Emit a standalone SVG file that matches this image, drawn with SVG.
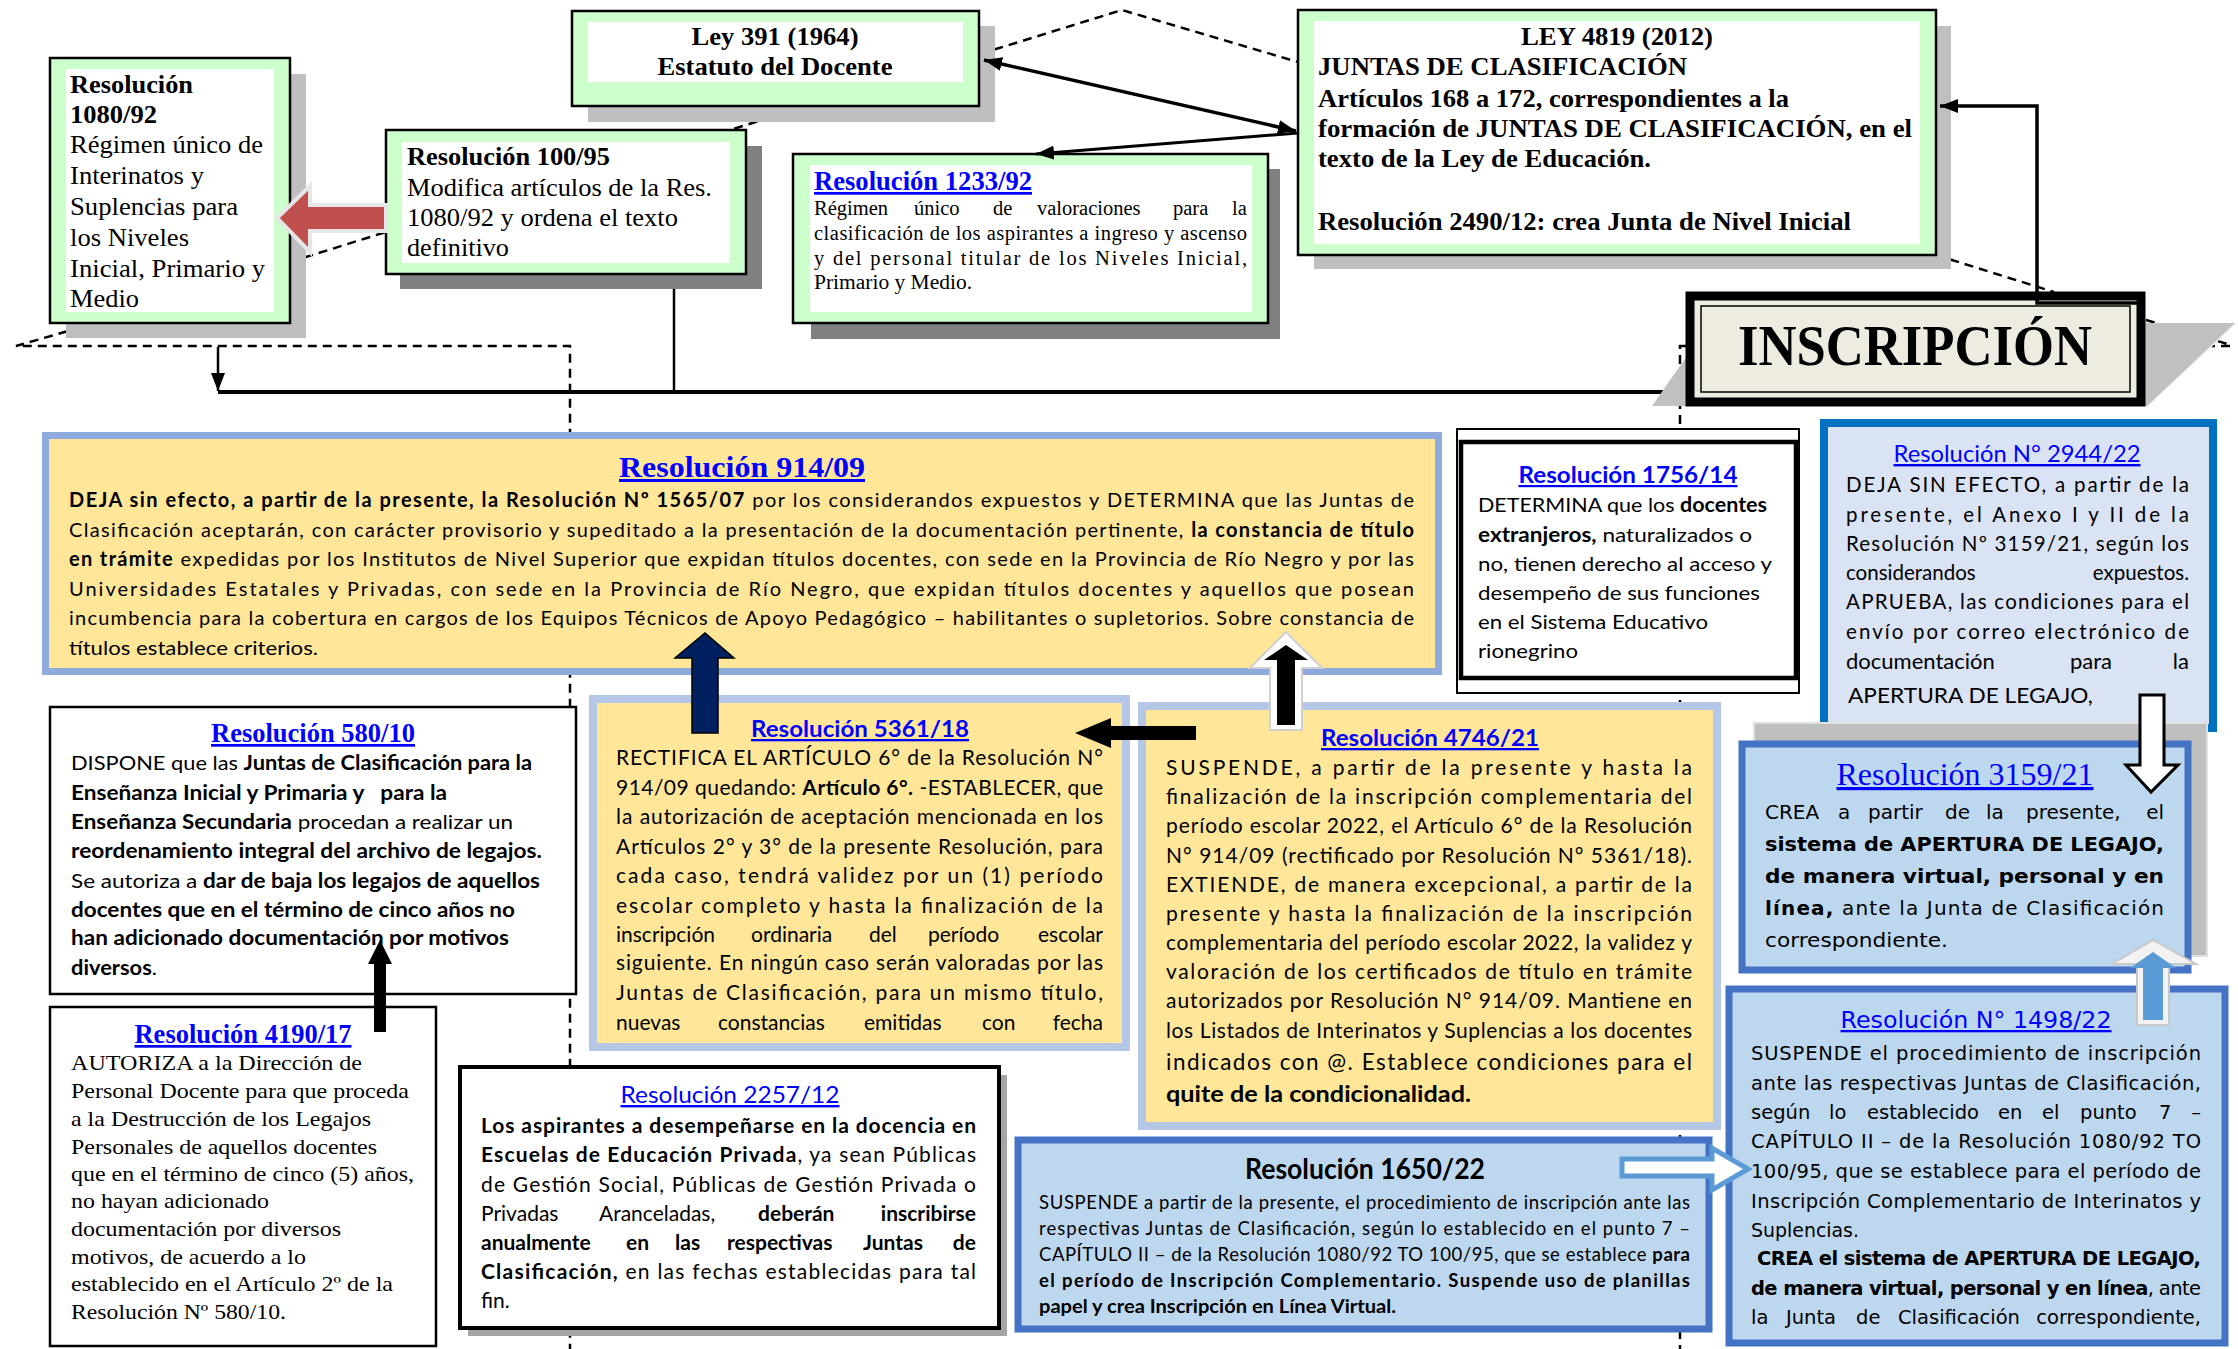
<svg xmlns="http://www.w3.org/2000/svg" width="2238" height="1349" viewBox="0 0 2238 1349">
<defs>
<style>
text{fill:#000}
.sr{font-family:"Liberation Serif","Times New Roman",serif}
.ss{font-family:Lato,"Open Sans","Noto Sans",sans-serif}
.sv{font-family:"DejaVu Sans",Verdana,sans-serif}
.b{font-weight:bold}
.lk{fill:#0000FF;text-decoration:underline}
.dash{fill:none;stroke:#000;stroke-width:2.5;stroke-dasharray:9 6}
.ln{fill:none;stroke:#000}
.grn{fill:#CCFFCC;stroke:#000;stroke-width:2.5}
.wht{fill:#FFFFFF}
.sh1{fill:#BFBFBF}
.sh2{fill:#808080}
.yel{fill:#FFE699;stroke:#B4C7E7;stroke-width:8}
.blu{fill:#BDD7EE;stroke:#4472C4;stroke-width:7}
</style>
<marker id="ah" viewBox="0 0 10 10" refX="10" refY="5" markerWidth="18" markerHeight="14" markerUnits="userSpaceOnUse" orient="auto-start-reverse" preserveAspectRatio="none"><path d="M0,0 L10,5 L0,10 z" fill="#000"/></marker>
</defs>
<rect width="2238" height="1349" fill="#FFFFFF"/>

<g id="connectors-back">
<path class="dash" d="M980,54 L1122,10 L1298,62"/>
<path class="dash" d="M800,108 L730,130"/>
<path class="dash" d="M290,262 L386,232"/>
<path class="dash" d="M96,323 L16,346 L570,346 L570,1349"/>
<path class="dash" d="M1936,255 L2054,292"/>
<path class="dash" d="M2146,320 L2231,345 M2146,346 L2231,346"/>
<path class="dash" d="M1686,346 L1680,346 L1680,1349"/>
<path class="ln" stroke-width="4" d="M1688,392 L218,392"/>
<path class="ln" stroke-width="2.5" d="M674,274 L674,392"/>
</g>

<g id="ley391">
<rect class="sh1" x="588" y="26" width="407" height="96"/>
<rect class="grn" x="572" y="11" width="407" height="95"/>
<rect class="wht" x="588" y="22" width="375" height="60"/>
<text class="sr b" font-size="26" x="775" y="45" text-anchor="middle" textLength="167" lengthAdjust="spacingAndGlyphs">Ley 391 (1964)</text>
<text class="sr b" font-size="26" x="775" y="75" text-anchor="middle" textLength="235" lengthAdjust="spacingAndGlyphs">Estatuto del Docente</text>
</g>

<g id="res1080">
<rect class="sh1" x="66" y="74" width="240" height="264"/>
<rect class="grn" x="50" y="58" width="240" height="265"/>
<rect class="wht" x="66" y="69" width="208" height="243"/>
<text class="sr b" font-size="25" x="70" y="93" textLength="123" lengthAdjust="spacingAndGlyphs">Resolución</text>
<text class="sr b" font-size="25" x="70" y="123" textLength="87" lengthAdjust="spacingAndGlyphs">1080/92</text>
<text class="sr" font-size="25" x="70" y="153" textLength="193" lengthAdjust="spacingAndGlyphs">Régimen único de</text>
<text class="sr" font-size="25" x="70" y="184" textLength="134" lengthAdjust="spacingAndGlyphs">Interinatos y</text>
<text class="sr" font-size="25" x="70" y="215" textLength="168" lengthAdjust="spacingAndGlyphs">Suplencias para</text>
<text class="sr" font-size="25" x="70" y="246" textLength="119" lengthAdjust="spacingAndGlyphs">los Niveles</text>
<text class="sr" font-size="25" x="70" y="277" textLength="195" lengthAdjust="spacingAndGlyphs">Inicial, Primario y</text>
<text class="sr" font-size="25" x="70" y="307" textLength="69" lengthAdjust="spacingAndGlyphs">Medio</text>
</g>

<g id="res100">
<rect class="sh2" x="400" y="146" width="362" height="143"/>
<rect class="grn" x="386" y="130" width="360" height="144"/>
<rect class="wht" x="402" y="142" width="328" height="121"/>
<text class="sr b" font-size="25" x="407" y="165" textLength="203" lengthAdjust="spacingAndGlyphs">Resolución 100/95</text>
<text class="sr" font-size="25" x="407" y="196" textLength="305" lengthAdjust="spacingAndGlyphs">Modifica artículos de la Res.</text>
<text class="sr" font-size="25" x="407" y="226" textLength="271" lengthAdjust="spacingAndGlyphs">1080/92 y ordena el texto</text>
<text class="sr" font-size="25" x="407" y="256" textLength="102" lengthAdjust="spacingAndGlyphs">definitivo</text>
</g>

<g id="res1233">
<rect class="sh2" x="811" y="169" width="469" height="170"/>
<rect class="grn" x="793" y="154" width="475" height="169"/>
<rect class="wht" x="810" y="165" width="442" height="147"/>
<text class="sr b lk" font-size="27" x="814" y="190" textLength="218" lengthAdjust="spacingAndGlyphs">Resolución 1233/92</text>
<text class="sr" font-size="20.5" y="215"><tspan x="814">Régimen</tspan><tspan x="914">único</tspan><tspan x="993">de</tspan><tspan x="1037">valoraciones</tspan><tspan x="1173">para</tspan><tspan x="1232">la</tspan></text>
<text class="sr" font-size="20.5" x="814" y="240" textLength="433" lengthAdjust="spacing">clasificación de los aspirantes a ingreso y ascenso</text>
<text class="sr" font-size="20.5" x="814" y="265" textLength="433" lengthAdjust="spacing">y del personal titular de los Niveles Inicial,</text>
<text class="sr" font-size="20.5" x="814" y="289" textLength="158" lengthAdjust="spacingAndGlyphs">Primario y Medio.</text>
</g>

<g id="ley4819">
<rect class="sh1" x="1314" y="26" width="637" height="243"/>
<rect class="grn" x="1298" y="10" width="638" height="245"/>
<rect class="wht" x="1314" y="21" width="606" height="223"/>
<text class="sr b" font-size="26" x="1617" y="45" text-anchor="middle" textLength="192" lengthAdjust="spacingAndGlyphs">LEY 4819 (2012)</text>
<text class="sr b" font-size="26" x="1318" y="75" textLength="369" lengthAdjust="spacingAndGlyphs">JUNTAS DE CLASIFICACIÓN</text>
<text class="sr b" font-size="26" x="1318" y="107" textLength="471" lengthAdjust="spacingAndGlyphs">Artículos 168 a 172, correspondientes a la</text>
<text class="sr b" font-size="26" x="1318" y="137" textLength="594" lengthAdjust="spacingAndGlyphs">formación de JUNTAS DE CLASIFICACIÓN, en el</text>
<text class="sr b" font-size="26" x="1318" y="167" textLength="333" lengthAdjust="spacingAndGlyphs">texto de la Ley de Educación.</text>
<text class="sr b" font-size="26" x="1318" y="230" textLength="533" lengthAdjust="spacingAndGlyphs">Resolución 2490/12: crea Junta de Nivel Inicial</text>
</g>

<g id="inscripcion">
<polygon points="1710,323 2236,323 2148,406 1652,406" fill="#C0C0C0"/>
<line x1="2236" y1="323" x2="2148" y2="406" stroke="#F2F2F2" stroke-width="1.5"/>
<rect x="1690" y="296" width="451" height="106" fill="#EEECE1" stroke="#000" stroke-width="9"/>
<rect x="1701" y="306" width="429" height="86" fill="none" stroke="#000" stroke-width="1.5"/>
<text class="sr b" font-size="56" x="1915" y="365" text-anchor="middle" textLength="354" lengthAdjust="spacingAndGlyphs">INSCRIPCIÓN</text>
</g>

<g id="res914">
<rect x="45.5" y="435.5" width="1393" height="236" fill="#FFE699" stroke="#8FAADC" stroke-width="7"/>
<text class="sr b lk" font-size="30" x="742" y="477" text-anchor="middle" textLength="246" lengthAdjust="spacingAndGlyphs">Resolución 914/09</text>
<text class="ss" font-size="20" x="69" y="507" textLength="1345" lengthAdjust="spacing"><tspan class="b">DEJA  sin efecto, a partir de la presente, la Resolución Nº 1565/07</tspan> por los considerandos expuestos y DETERMINA que  las Juntas de</text>
<text class="ss" font-size="20" x="69" y="537" textLength="1345" lengthAdjust="spacing">Clasificación  aceptarán,  con  carácter provisorio y supeditado a la presentación de la documentación pertinente, <tspan class="b">la constancia de título</tspan></text>
<text class="ss" font-size="20" x="69" y="566" textLength="1345" lengthAdjust="spacing"><tspan class="b">en trámite</tspan> expedidas por los Institutos de Nivel Superior que expidan títulos docentes, con sede en la Provincia de Río Negro y por las</text>
<text class="ss" font-size="20" x="69" y="596" textLength="1345" lengthAdjust="spacing">Universidades Estatales y Privadas, con sede  en  la Provincia de Río Negro, que expidan títulos docentes y aquellos que posean</text>
<text class="ss" font-size="20" x="69" y="625" textLength="1345" lengthAdjust="spacing">incumbencia para la cobertura en cargos de los Equipos Técnicos de Apoyo Pedagógico – habilitantes o supletorios. Sobre constancia de</text>
<text class="ss" font-size="20" x="69" y="655" textLength="249" lengthAdjust="spacingAndGlyphs">títulos establece criterios.</text>
</g>

<g id="res1756">
<rect x="1457" y="429" width="342" height="264" fill="#FFFFFF" stroke="#000" stroke-width="2"/>
<rect x="1461" y="442" width="335" height="236" fill="#FFFFFF" stroke="#000" stroke-width="4.5"/>
<text class="ss b lk" font-size="22" x="1628" y="483" text-anchor="middle" textLength="219" lengthAdjust="spacingAndGlyphs">Resolución 1756/14</text>
<text class="ss" font-size="20" x="1478" y="512" textLength="289" lengthAdjust="spacingAndGlyphs">DETERMINA que los <tspan class="b">docentes</tspan></text>
<text class="ss" font-size="20" x="1478" y="542" textLength="274" lengthAdjust="spacingAndGlyphs"><tspan class="b">extranjeros,</tspan> naturalizados o</text>
<text class="ss" font-size="20" x="1478" y="571" textLength="294" lengthAdjust="spacingAndGlyphs">no, tienen derecho al acceso y</text>
<text class="ss" font-size="20" x="1478" y="600" textLength="282" lengthAdjust="spacingAndGlyphs">desempeño de sus funciones</text>
<text class="ss" font-size="20" x="1478" y="629" textLength="230" lengthAdjust="spacingAndGlyphs">en el Sistema Educativo</text>
<text class="ss" font-size="20" x="1478" y="658" textLength="100" lengthAdjust="spacingAndGlyphs">rionegrino</text>
</g>

<g id="res2944">
<rect x="1824" y="423" width="389" height="305" fill="#DAE3F3" stroke="#0070C0" stroke-width="8"/>
<text class="ss lk" font-size="24" x="2017" y="462" text-anchor="middle" textLength="247" lengthAdjust="spacingAndGlyphs">Resolución N° 2944/22</text>
<text class="ss" font-size="20.5" x="1846" y="492" textLength="343" lengthAdjust="spacing">DEJA SIN EFECTO, a partir de la</text>
<text class="ss" font-size="20.5" x="1846" y="522" textLength="343" lengthAdjust="spacing">presente, el Anexo I y II de la</text>
<text class="ss" font-size="20.5" x="1846" y="551" textLength="343" lengthAdjust="spacing">Resolución Nº 3159/21, según los</text>
<text class="ss" font-size="20.5" x="1846" y="580">considerandos</text>
<text class="ss" font-size="20.5" x="2189" y="580" text-anchor="end">expuestos.</text>
<text class="ss" font-size="20.5" x="1846" y="609" textLength="343" lengthAdjust="spacing">APRUEBA, las condiciones para el</text>
<text class="ss" font-size="20.5" x="1846" y="639" textLength="343" lengthAdjust="spacing">envío por correo electrónico de</text>
<text class="ss" font-size="22" x="1846" y="669">documentación</text>
<text class="ss" font-size="22" x="2070" y="669">para</text>
<text class="ss" font-size="22" x="2189" y="669" text-anchor="end">la</text>
<text class="ss" font-size="22" x="1848" y="703" textLength="245" lengthAdjust="spacingAndGlyphs">APERTURA DE LEGAJO,</text>
</g>

<g id="res580">
<rect x="50" y="707" width="526" height="287" fill="#FFFFFF" stroke="#000" stroke-width="2.5"/>
<text class="sr b lk" font-size="27" x="313" y="742" text-anchor="middle" textLength="204" lengthAdjust="spacingAndGlyphs">Resolución 580/10</text>
<text class="ss" font-size="20" x="71" y="770" textLength="461" lengthAdjust="spacingAndGlyphs">DISPONE que las <tspan class="b">Juntas de Clasificación para la</tspan></text>
<text class="ss b" font-size="20" x="71" y="800" textLength="376" lengthAdjust="spacingAndGlyphs" xml:space="preserve">Enseñanza Inicial y Primaria y   para la</text>
<text class="ss" font-size="20" x="71" y="829" textLength="442" lengthAdjust="spacingAndGlyphs"><tspan class="b">Enseñanza Secundaria</tspan> procedan a realizar un</text>
<text class="ss b" font-size="20" x="71" y="858" textLength="471" lengthAdjust="spacingAndGlyphs">reordenamiento integral del archivo de legajos.</text>
<text class="ss" font-size="20" x="71" y="888" textLength="469" lengthAdjust="spacingAndGlyphs">Se autoriza a <tspan class="b">dar de baja los legajos de aquellos</tspan></text>
<text class="ss b" font-size="20" x="71" y="917" textLength="444" lengthAdjust="spacingAndGlyphs">docentes que en el término de cinco años no</text>
<text class="ss b" font-size="20" x="71" y="945" textLength="438" lengthAdjust="spacingAndGlyphs">han adicionado documentación por motivos</text>
<text class="ss" font-size="20" x="71" y="975" textLength="86" lengthAdjust="spacingAndGlyphs"><tspan class="b">diversos</tspan>.</text>
</g>

<g id="res4190">
<rect x="50" y="1007" width="386" height="339" fill="#FFFFFF" stroke="#000" stroke-width="2.5"/>
<text class="sr b lk" font-size="27" x="243" y="1043" text-anchor="middle" textLength="217" lengthAdjust="spacingAndGlyphs">Resolución 4190/17</text>
<text class="sr" font-size="22" x="71" y="1070" textLength="291" lengthAdjust="spacingAndGlyphs">AUTORIZA a la Dirección de</text>
<text class="sr" font-size="22" x="71" y="1098" textLength="338" lengthAdjust="spacingAndGlyphs">Personal Docente para que proceda</text>
<text class="sr" font-size="22" x="71" y="1126" textLength="300" lengthAdjust="spacingAndGlyphs">a la Destrucción de los Legajos</text>
<text class="sr" font-size="22" x="71" y="1154" textLength="306" lengthAdjust="spacingAndGlyphs">Personales de aquellos docentes</text>
<text class="sr" font-size="22" x="71" y="1181" textLength="343" lengthAdjust="spacingAndGlyphs">que en el término de cinco (5) años,</text>
<text class="sr" font-size="22" x="71" y="1208" textLength="198" lengthAdjust="spacingAndGlyphs">no hayan adicionado</text>
<text class="sr" font-size="22" x="71" y="1236" textLength="270" lengthAdjust="spacingAndGlyphs">documentación por diversos</text>
<text class="sr" font-size="22" x="71" y="1264" textLength="235" lengthAdjust="spacingAndGlyphs">motivos, de acuerdo a lo</text>
<text class="sr" font-size="22" x="71" y="1291" textLength="322" lengthAdjust="spacingAndGlyphs">establecido en el Artículo 2º de la</text>
<text class="sr" font-size="22" x="71" y="1319" textLength="215" lengthAdjust="spacingAndGlyphs">Resolución Nº 580/10.</text>
</g>

<g id="res5361">
<rect class="yel" x="593" y="699" width="533" height="348"/>
<text class="ss b lk" font-size="23" x="860" y="737" text-anchor="middle" textLength="218" lengthAdjust="spacingAndGlyphs">Resolución 5361/18</text>
<text class="ss" font-size="21" x="616" y="765" textLength="487" lengthAdjust="spacing">RECTIFICA EL ARTÍCULO 6° de la Resolución N°</text>
<text class="ss" font-size="21" x="616" y="795" textLength="487" lengthAdjust="spacing">914/09 quedando: <tspan class="b">Artículo 6°.</tspan> -ESTABLECER, que</text>
<text class="ss" font-size="21" x="616" y="824" textLength="487" lengthAdjust="spacing">la autorización de aceptación mencionada en los</text>
<text class="ss" font-size="21" x="616" y="854" textLength="487" lengthAdjust="spacing">Artículos 2° y 3° de la presente Resolución, para</text>
<text class="ss" font-size="21" x="616" y="883" textLength="487" lengthAdjust="spacing">cada caso, tendrá validez por un (1) período</text>
<text class="ss" font-size="21" x="616" y="913" textLength="487" lengthAdjust="spacing">escolar completo y hasta la finalización de la</text>
<text class="ss" font-size="21" y="942"><tspan x="616">inscripción</tspan><tspan x="751">ordinaria</tspan><tspan x="869">del</tspan><tspan x="928">período</tspan></text>
<text class="ss" font-size="21" x="1103" y="942" text-anchor="end">escolar</text>
<text class="ss" font-size="21" x="616" y="970" textLength="487" lengthAdjust="spacing">siguiente. En ningún caso serán valoradas por las</text>
<text class="ss" font-size="21" x="616" y="1000" textLength="487" lengthAdjust="spacing">Juntas de Clasificación, para un mismo título,</text>
<text class="ss" font-size="21" y="1030"><tspan x="616">nuevas</tspan><tspan x="718">constancias</tspan><tspan x="864">emitidas</tspan><tspan x="982">con</tspan></text>
<text class="ss" font-size="21" x="1103" y="1030" text-anchor="end">fecha</text>
</g>

<g id="res4746">
<rect class="yel" x="1142" y="706" width="575" height="420"/>
<text class="ss b lk" font-size="23" x="1430" y="746" text-anchor="middle" textLength="218" lengthAdjust="spacingAndGlyphs">Resolución 4746/21</text>
<text class="ss" font-size="21" x="1166" y="775" textLength="526" lengthAdjust="spacing">SUSPENDE, a partir de la presente y hasta la</text>
<text class="ss" font-size="21" x="1166" y="804" textLength="526" lengthAdjust="spacing">finalización de la inscripción complementaria del</text>
<text class="ss" font-size="21" x="1166" y="833" textLength="526" lengthAdjust="spacing">período escolar 2022, el Artículo 6° de la Resolución</text>
<text class="ss" font-size="21" x="1166" y="863" textLength="526" lengthAdjust="spacing">N° 914/09 (rectificado por Resolución N° 5361/18).</text>
<text class="ss" font-size="21" x="1166" y="892" textLength="526" lengthAdjust="spacing">EXTIENDE, de manera excepcional, a partir de la</text>
<text class="ss" font-size="21" x="1166" y="921" textLength="526" lengthAdjust="spacing">presente y hasta la finalización de la inscripción</text>
<text class="ss" font-size="21" x="1166" y="950" textLength="526" lengthAdjust="spacing">complementaria del período escolar 2022, la validez y</text>
<text class="ss" font-size="21" x="1166" y="979" textLength="526" lengthAdjust="spacing">valoración de los certificados de título en trámite</text>
<text class="ss" font-size="21" x="1166" y="1008" textLength="526" lengthAdjust="spacing">autorizados por Resolución N° 914/09. Mantiene en</text>
<text class="ss" font-size="21" x="1166" y="1038" textLength="526" lengthAdjust="spacing">los Listados de Interinatos y Suplencias a los docentes</text>
<text class="ss" font-size="22.5" x="1166" y="1070" textLength="526" lengthAdjust="spacing">indicados con @. Establece condiciones para el</text>
<text class="ss b" font-size="23.5" x="1166" y="1102" textLength="305" lengthAdjust="spacingAndGlyphs">quite de la condicionalidad.</text>
</g>

<g id="res2257">
<rect x="468" y="1075" width="539" height="261" fill="#A6A6A6"/>
<rect x="460" y="1067" width="539" height="261" fill="#FFFFFF" stroke="#000" stroke-width="4"/>
<text class="ss lk" font-size="24" x="730" y="1103" text-anchor="middle" textLength="219" lengthAdjust="spacingAndGlyphs">Resolución 2257/12</text>
<text class="ss b" font-size="21" x="481" y="1133" textLength="495" lengthAdjust="spacing">Los aspirantes a desempeñarse en la docencia en</text>
<text class="ss" font-size="21" x="481" y="1162" textLength="495" lengthAdjust="spacing"><tspan class="b">Escuelas de Educación Privada</tspan>, ya sean Públicas</text>
<text class="ss" font-size="21" x="481" y="1192" textLength="495" lengthAdjust="spacing">de Gestión Social, Públicas de Gestión Privada o</text>
<text class="ss" font-size="21" y="1221"><tspan x="481">Privadas</tspan><tspan x="599">Aranceladas,</tspan><tspan class="b" x="758">deberán</tspan></text>
<text class="ss b" font-size="21" x="976" y="1221" text-anchor="end">inscribirse</text>
<text class="ss b" font-size="21" y="1250"><tspan x="481">anualmente</tspan><tspan x="626">en</tspan><tspan x="675">las</tspan><tspan x="727">respectivas</tspan><tspan x="863">Juntas</tspan></text>
<text class="ss b" font-size="21" x="976" y="1250" text-anchor="end">de</text>
<text class="ss" font-size="21" x="481" y="1279" textLength="495" lengthAdjust="spacing"><tspan class="b">Clasificación,</tspan> en las fechas establecidas para tal</text>
<text class="ss" font-size="21" x="481" y="1308">fin.</text>
</g>

<g id="res1650">
<rect class="blu" x="1018" y="1140" width="691" height="189" stroke-width="8"/>
<text class="ss b" font-size="28" x="1365" y="1179" text-anchor="middle" textLength="240" lengthAdjust="spacingAndGlyphs">Resolución 1650/22</text>
<text class="ss" font-size="18.5" x="1039" y="1209" textLength="651" lengthAdjust="spacing">SUSPENDE a partir de la presente, el procedimiento de inscripción ante las</text>
<text class="ss" font-size="18.5" x="1039" y="1235" textLength="651" lengthAdjust="spacing">respectivas Juntas de Clasificación, según lo establecido en el punto 7 –</text>
<text class="ss" font-size="18.5" x="1039" y="1261" textLength="651" lengthAdjust="spacing">CAPÍTULO II – de la Resolución 1080/92 TO 100/95, que se establece <tspan class="b">para</tspan></text>
<text class="ss b" font-size="18.5" x="1039" y="1287" textLength="651" lengthAdjust="spacing">el período de Inscripción Complementario. Suspende uso de planillas</text>
<text class="ss b" font-size="18.5" x="1039" y="1313" textLength="357" lengthAdjust="spacingAndGlyphs">papel y crea Inscripción en Línea Virtual.</text>
</g>

<g id="res3159">
<rect x="1754" y="723" width="453" height="233" fill="#BFBFBF" stroke="#E0E0E0" stroke-width="2"/>
<rect class="blu" x="1742" y="744" width="446" height="226"/>
<text class="sr lk" font-size="32" x="1965" y="785" text-anchor="middle" textLength="257" lengthAdjust="spacingAndGlyphs">Resolución 3159/21</text>
<text class="sv" font-size="20" y="819"><tspan x="1765">CREA</tspan><tspan x="1838">a</tspan><tspan x="1868">partir</tspan><tspan x="1945">de</tspan><tspan x="1986">la</tspan><tspan x="2026">presente,</tspan></text>
<text class="sv" font-size="20" x="2164" y="819" text-anchor="end">el</text>
<text class="sv b" font-size="20" x="1765" y="851" textLength="399" lengthAdjust="spacingAndGlyphs">sistema de APERTURA DE LEGAJO,</text>
<text class="sv b" font-size="20" x="1765" y="883" textLength="399" lengthAdjust="spacingAndGlyphs">de manera virtual, personal y en</text>
<text class="sv" font-size="20" x="1765" y="915" textLength="399" lengthAdjust="spacing"><tspan class="b">línea,</tspan> ante la Junta de Clasificación</text>
<text class="sv" font-size="20" x="1765" y="947" textLength="183" lengthAdjust="spacingAndGlyphs">correspondiente.</text>
</g>

<g id="res1498">
<rect class="blu" x="1729" y="989" width="496" height="354" stroke-width="6"/>
<text class="sv lk" font-size="23" x="1976" y="1028" text-anchor="middle" textLength="271" lengthAdjust="spacingAndGlyphs">Resolución N° 1498/22</text>
<text class="sv" font-size="19.5" x="1751" y="1060" textLength="450" lengthAdjust="spacing">SUSPENDE el procedimiento de inscripción</text>
<text class="sv" font-size="19.5" x="1751" y="1090" textLength="450" lengthAdjust="spacing">ante las respectivas Juntas de Clasificación,</text>
<text class="sv" font-size="19.5" y="1119"><tspan x="1751">según</tspan><tspan x="1829">lo</tspan><tspan x="1867">establecido</tspan><tspan x="1998">en</tspan><tspan x="2042">el</tspan><tspan x="2080">punto</tspan><tspan x="2159">7</tspan></text>
<text class="sv" font-size="19.5" x="2201" y="1119" text-anchor="end">–</text>
<text class="sv" font-size="19.5" x="1751" y="1148" textLength="450" lengthAdjust="spacing">CAPÍTULO II – de la Resolución 1080/92 TO</text>
<text class="sv" font-size="19.5" x="1751" y="1178" textLength="450" lengthAdjust="spacing">100/95, que se establece para el período de</text>
<text class="sv" font-size="19.5" x="1751" y="1208" textLength="450" lengthAdjust="spacing">Inscripción Complementario de Interinatos y</text>
<text class="sv" font-size="19.5" x="1751" y="1237" textLength="108" lengthAdjust="spacingAndGlyphs">Suplencias.</text>
<text class="sv b" font-size="19.5" x="1757" y="1265" textLength="444" lengthAdjust="spacing">CREA el sistema de APERTURA DE LEGAJO,</text>
<text class="sv" font-size="19.5" x="1751" y="1295" textLength="450" lengthAdjust="spacing"><tspan class="b">de manera virtual, personal y en línea</tspan>, ante</text>
<text class="sv" font-size="19.5" y="1324"><tspan x="1751">la</tspan><tspan x="1786">Junta</tspan><tspan x="1856">de</tspan><tspan x="1898">Clasificación</tspan></text>
<text class="sv" font-size="19.5" x="2201" y="1324" text-anchor="end">correspondiente,</text>
</g>

<g id="connectors">
<line class="ln" stroke-width="3.5" x1="984" y1="60" x2="1296" y2="131" marker-start="url(#ah)" marker-end="url(#ah)"/>
<line class="ln" stroke-width="3" x1="1298" y1="133" x2="1036" y2="154" marker-end="url(#ah)"/>
<path class="ln" stroke-width="3.5" d="M2140,303 L2037,303 L2037,106 L1940,106" marker-end="url(#ah)"/>
<path class="ln" stroke-width="2.5" d="M218,347 L218,391" marker-end="url(#ah)"/>
<polygon points="386,205 310,205 310,186 277,218 310,252 310,231 386,231" fill="#C0504D" stroke="#E6E6E6" stroke-width="4"/>
<polygon points="692,733 718,733 718,658 734,658 705,633 675,658 692,658" fill="#002060" stroke="#000" stroke-width="1.5"/>
<polygon points="374,1032 386,1032 386,964 392,964 380,940 368,964 374,964" fill="#000"/>
<polygon points="1196,726 1111,726 1111,718 1075,733 1111,748 1111,740 1196,740" fill="#000"/>
<polygon points="1270,730 1302,730 1302,668 1322,668 1286,632 1250,668 1270,668" fill="#FFFFFF" stroke="#D0D0D0" stroke-width="2"/>
<polygon points="1277,725 1295,725 1295,660 1308,660 1286,645 1264,660 1277,660" fill="#000"/>
<polygon points="2140,695 2164,695 2164,765 2178,765 2151,792 2126,765 2140,765" fill="#FFFFFF" stroke="#000" stroke-width="3"/>
<polygon points="2137,1025 2169,1025 2169,964 2196,964 2153,940 2112,964 2137,964" fill="#F2F2F2" stroke="#C8C8C8" stroke-width="2"/>
<polygon points="2143,1020 2163,1020 2163,968 2176,968 2153,952 2130,968 2143,968" fill="#5B9BD5"/>
<polygon points="1622,1159 1712,1159 1712,1148 1748,1169 1712,1190 1712,1176 1622,1176" fill="#FFFFFF" stroke="#5B9BD5" stroke-width="5"/>
</g>
</svg>
